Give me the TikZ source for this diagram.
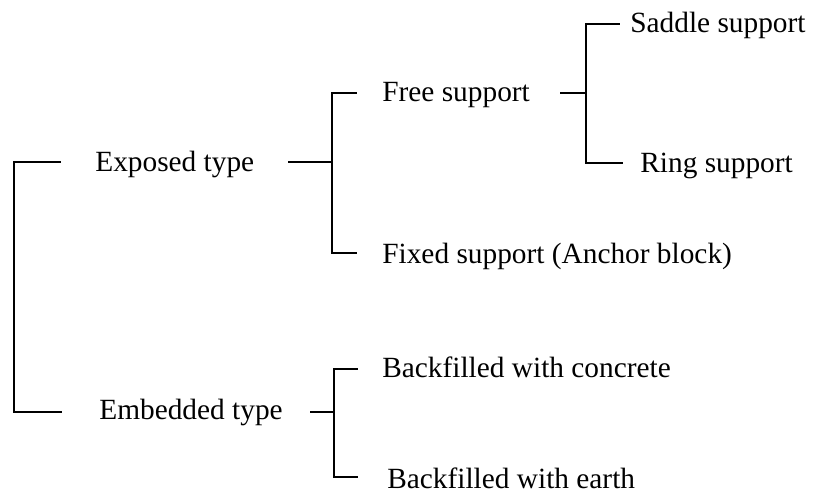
\documentclass[tikz,border=0pt]{standalone}
\usepackage{fontspec}
\setmainfont{Liberation Serif}
\usetikzlibrary{positioning}
\tikzset{
  lbl/.style={anchor=base west, inner sep=0pt, font=\fontsize{16.7}{20}\selectfont},
  brace/.style={line width=1.5pt}
}
\begin{document}
\begin{tikzpicture}[x=0.02cm, y=-0.02cm]
  \useasboundingbox (0,0) rectangle (814,493);
  % labels
  \node[lbl] (exposed)  at (95,172)  {Exposed type};
  \node[lbl] (embedded) at (99,419)  {Embedded type};
  \node[lbl] (free)     at (382,102) {Free support};
  \node[lbl] (fixed)    at (382,263) {Fixed support (Anchor block)};
  \node[lbl] (saddle)   at (630,33)  {Saddle support};
  \node[lbl] (ring)     at (640,173) {Ring support};
  \node[lbl] (concrete) at (382,377) {Backfilled with concrete};
  \node[lbl] (earth)    at (387,488) {Backfilled with earth};
  % junctions and branch ends
  \coordinate (rootj) at (14,287);
  \coordinate (exposedA) at (61,162);   \coordinate (embeddedA) at (62,412);
  \coordinate (exposedS) at (288,162);  \coordinate (exposedj) at (332,162);
  \coordinate (freeA) at (357,93);      \coordinate (fixedA) at (357,253);
  \coordinate (freeS) at (560,93);      \coordinate (freej) at (586,93);
  \coordinate (saddleA) at (620,24);    \coordinate (ringA) at (623,163);
  \coordinate (embeddedS) at (310,412); \coordinate (embeddedj) at (334,412);
  \coordinate (concreteA) at (358,369); \coordinate (earthA) at (358,477);
  % stems
  \foreach \s/\j in {exposedS/exposedj, freeS/freej, embeddedS/embeddedj}
    \draw[brace] (\s) -- (\j);
  % brackets
  \foreach \j/\e in {rootj/exposedA, rootj/embeddedA, exposedj/freeA, exposedj/fixedA,
    freej/saddleA, freej/ringA, embeddedj/concreteA, embeddedj/earthA}
    \draw[brace] (\j) |- (\e);
\end{tikzpicture}
\end{document}
